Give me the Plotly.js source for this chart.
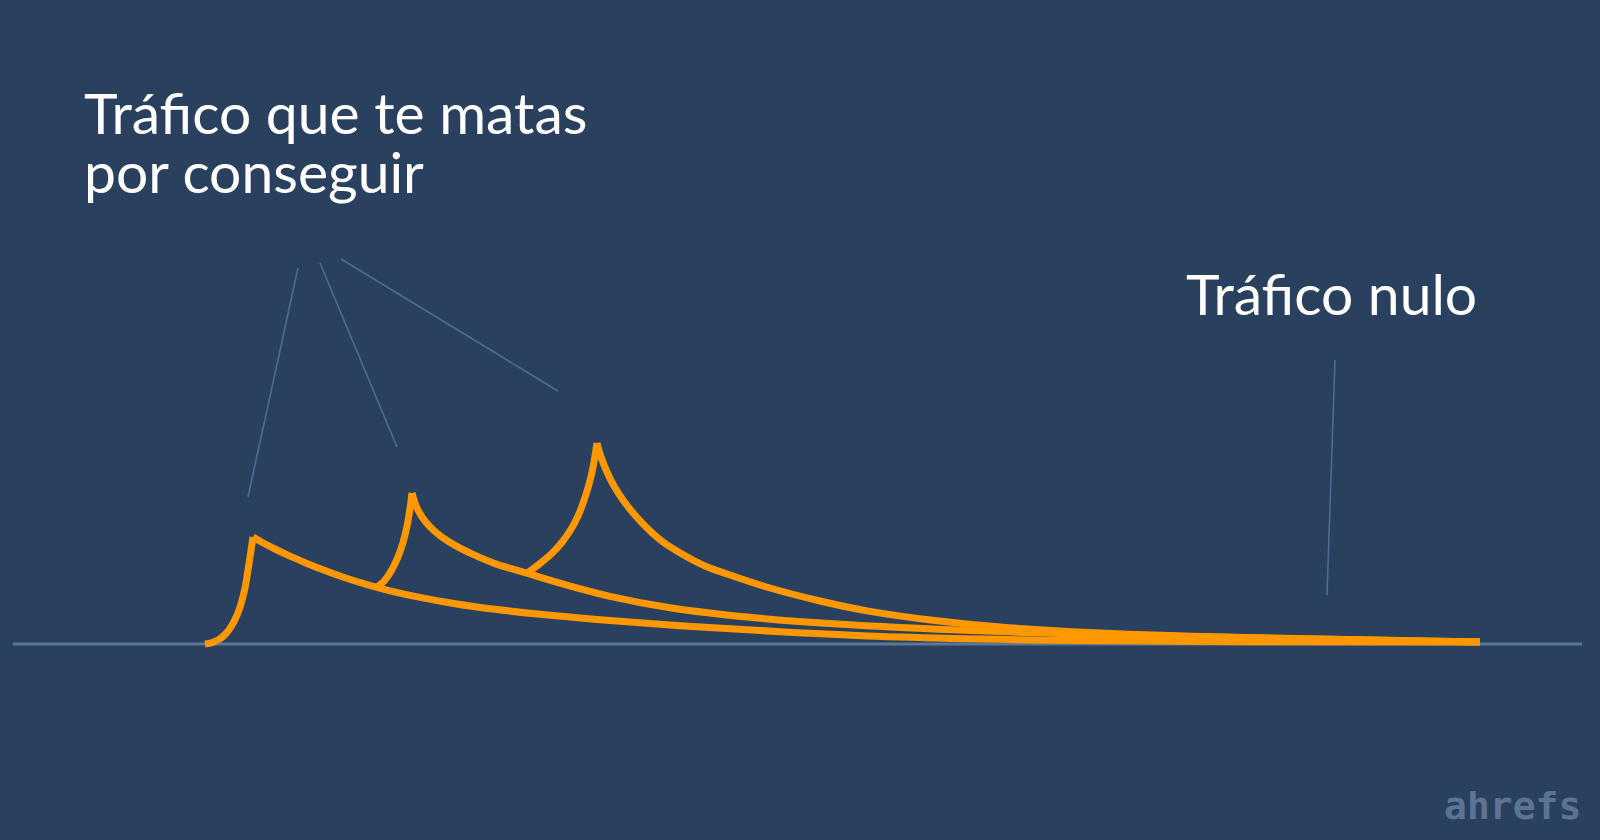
<!DOCTYPE html>
<html>
<head>
<meta charset="utf-8">
<script src="https://cdn.plot.ly/plotly-3.0.1.min.js"></script>
<style>
  html, body { margin: 0; padding: 0; background: #29405f; }
  #chart { width: 1600px; height: 840px; }
</style>
</head>
<body>
<div id="chart"></div>
<script>
// three launches: each one rises fast, peaks, then decays to nothing
// x = time, y = traffic (0 = no traffic)

const launch1RiseX = [20.5, 21.2, 21.9, 22.6, 23.2, 23.7, 24.1, 24.5, 24.8, 25.1, 25.3];
const launch1RiseY = [0, 0.7, 2.3, 5.25, 9.45, 14.45, 20.05, 28, 37, 46.75, 53.5];
const launch1DecayX = [25.3, 26.3, 27.5, 29.0, 30.7, 32.5, 34.5, 36.7, 39.0, 42.0, 45.5, 49.5, 54.0, 60.0, 68.0, 78.0, 90.0, 105.0, 125.0, 148.0];
const launch1DecayY = [53.5, 50.6, 47.5, 43.95, 40.3, 36.7, 33.1, 29.7, 26.6, 23.3, 20.15, 17.35, 14.85, 12.15, 9.15, 6.15, 3.45, 1.9, 1.15, 1];

const launch2RiseX = [37.7, 38.5, 39.2, 39.8, 40.3, 40.7, 41.0, 41.2];
const launch2RiseY = [28.35, 32, 37.25, 43.55, 50.8, 58.8, 67.8, 75.5];
const launch2DecayX = [41.2, 41.5, 41.9, 42.5, 43.3, 44.3, 45.6, 47.3, 49.5, 52.7, 56.5, 61.0, 67.0, 75.0, 85.0, 100.0, 120.0, 148.0];
const launch2DecayY = [75.5, 70.4, 66, 61.5, 57.1, 53.1, 49.05, 44.8, 40.2, 35.4, 29.7, 23.85, 18.15, 13.35, 9.6, 6.2, 3.7, 1];

const launch3RiseX = [52.7, 54.0, 55.2, 56.2, 57.1, 57.8, 58.4, 58.9, 59.3, 59.7];
const launch3RiseY = [35.4, 40.25, 45.35, 50.85, 57.35, 64, 71.8, 79.8, 88.4, 100.5];
const launch3DecayX = [59.7, 60.1, 60.7, 61.4, 62.3, 63.4, 64.7, 66.3, 68.2, 70.5, 73.3, 77.0, 82.0, 87.0, 93.5, 100.0, 110.0, 125.0, 148.0];
const launch3DecayY = [100.5, 93.5, 86, 79, 72, 65, 58, 51, 45, 39, 34, 28, 21.5, 16.3, 11.7, 8.5, 5.5, 3.1, 1];

const segments = [
  [launch1RiseX, launch1RiseY],
  [launch1DecayX, launch1DecayY],
  [launch2RiseX, launch2RiseY],
  [launch2DecayX, launch2DecayY],
  [launch3RiseX, launch3RiseY],
  [launch3DecayX, launch3DecayY],
];

// pointer lines: [x0, y0, x1, y1]
const pointerLines = [
  [29.8, 188, 24.8, 73.5],
  [32.0, 190.5, 39.7, 98.5],
  [34.1, 192.5, 55.8, 126.5],
  [133.5, 142, 132.7, 24.5],
];

const labelText = ["Tráfico que te matas", "por conseguir", "Tráfico nulo"];

const orange = "#ff9700";
const bg = "#29405f";
const faint = "#4f6b90";

const data = segments.map(([x, y]) => ({
  x: x,
  y: y,
  mode: "lines",
  line: { color: orange, width: 7, shape: "spline", smoothing: 1 },
  hoverinfo: "skip",
  showlegend: false,
}));

const shapes = [
  {
    type: "line",
    xref: "x",
    yref: "y",
    x0: 1.3,
    x1: 158.2,
    y0: 0,
    y1: 0,
    line: { color: "#5b7698", width: 3 },
    layer: "below",
  },
];
for (const p of pointerLines) {
  shapes.push({
    type: "line",
    xref: "x",
    yref: "y",
    x0: p[0],
    y0: p[1],
    x1: p[2],
    y1: p[3],
    line: { color: faint, width: 1.6 },
    layer: "below",
  });
}

const labelFont = { family: "Lato, sans-serif", size: 57, color: "#ffffff" };

const annotations = [
  {
    text: labelText[0],
    xref: "paper",
    yref: "paper",
    x: 82 / 1600,
    y: 1 - 148 / 840,
    xanchor: "left",
    yanchor: "bottom",
    showarrow: false,
    font: labelFont,
  },
  {
    text: labelText[1],
    xref: "paper",
    yref: "paper",
    x: 82 / 1600,
    y: 1 - 207 / 840,
    xanchor: "left",
    yanchor: "bottom",
    showarrow: false,
    font: labelFont,
  },
  {
    text: labelText[2],
    xref: "paper",
    yref: "paper",
    x: 1184 / 1600,
    y: 1 - 329 / 840,
    xanchor: "left",
    yanchor: "bottom",
    showarrow: false,
    font: labelFont,
  },
  {
    text: "<b>ahrefs</b>",
    xref: "paper",
    yref: "paper",
    x: 1583 / 1600,
    y: 1 - 830 / 840,
    xanchor: "right",
    yanchor: "bottom",
    showarrow: false,
    font: { family: "DejaVu Sans Mono, monospace", size: 38, color: "#5d7394" },
  },
];

const layout = {
  width: 1600,
  height: 840,
  margin: { t: 0, b: 0, l: 0, r: 0 },
  paper_bgcolor: bg,
  plot_bgcolor: bg,
  xaxis: { range: [0, 160], visible: false, fixedrange: true },
  yaxis: { range: [-98, 322], visible: false, fixedrange: true },
  shapes: shapes,
  annotations: annotations,
};

Plotly.newPlot("chart", data, layout, { staticPlot: true, displayModeBar: false });
</script>
</body>
</html>
